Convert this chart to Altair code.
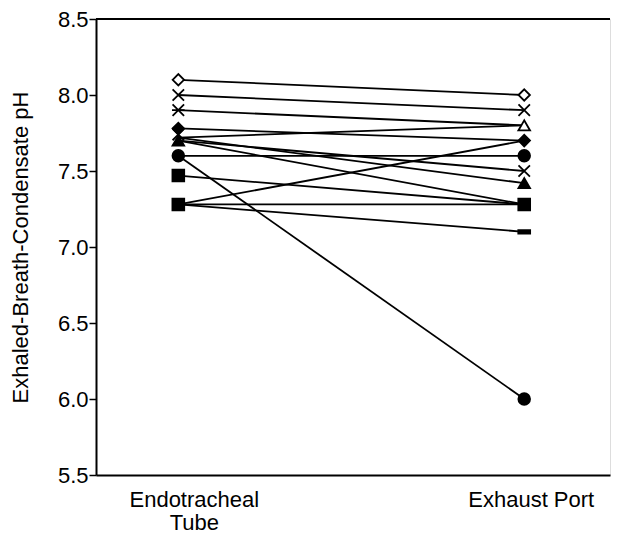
import altair as alt
import pandas as pd

# ---- data ----
left_vals = [8.1, 8.0, 7.9, 7.78, 7.72, 7.70, 7.72, 7.70, 7.6, 7.6, 7.47, 7.28, 7.28, 7.28]
right_vals = [8.0, 7.9, 7.8, 7.70, 7.8, 7.5, 7.42, 7.28, 7.6, 6.0, 7.28, 7.28, 7.70, 7.1]

left_marker_vals = [8.1, 8.0, 7.9, 7.78, 7.74, 7.70, 7.6, 7.47, 7.28]
left_marker_shapes = ["open_diamond", "cross", "asterisk", "filled_diamond", "cross",
                      "filled_triangle", "filled_circle", "small_square", "large_square"]
right_marker_vals = [8.0, 7.9, 7.8, 7.7, 7.6, 7.5, 7.42, 7.28, 7.1, 6.0]
right_marker_shapes = ["open_diamond", "cross", "open_triangle", "filled_diamond", "filled_circle",
                       "cross", "filled_triangle", "large_square", "dash", "filled_circle"]

sites = ["Endotracheal\nTube", "Exhaust Port"]
y_ticks = [5.5, 6.0, 6.5, 7.0, 7.5, 8.0, 8.5]

# ---- tables ----
rows = []
for i, (a, b) in enumerate(zip(left_vals, right_vals)):
    rows.append({"id": i, "site": 0, "ph": a})
    rows.append({"id": i, "site": 1, "ph": b})
lines_df = pd.DataFrame(rows)

pts = [{"site": 0, "ph": v, "shape": s} for v, s in zip(left_marker_vals, left_marker_shapes)]
pts += [{"site": 1, "ph": v, "shape": s} for v, s in zip(right_marker_vals, right_marker_shapes)]
pts_df = pd.DataFrame(pts)

# ---- style scales ----
shape_names = ["open_diamond", "cross", "asterisk", "filled_diamond", "filled_triangle",
               "open_triangle", "filled_circle", "small_square", "large_square", "dash"]
shape_paths = ["diamond", "M-1,-1L1,1M-1,1L1,-1", "M-1,-1L1,1M-1,1L1,-1M-1.1,0L1.1,0",
               "diamond", "triangle-up", "triangle-up", "circle", "square", "square",
               "M-1,-0.3L1,-0.3L1,0.3L-1,0.3Z"]
shape_sizes = [130, 140, 130, 150, 150, 140, 120, 95, 280, 160]
shape_fills = ["white", "black", "black", "black", "black", "white", "black", "black", "black", "black"]

FONT = "Liberation Sans"
W, H = 514, 456
xscale = alt.Scale(domain=[-0.238, 1.248], nice=False, zero=False)
yscale = alt.Scale(domain=[5.5, 8.5], nice=False, zero=False)

x_enc = alt.X("site:Q", scale=xscale,
              axis=alt.Axis(title=None, labels=False, ticks=False, grid=False,
                            domainWidth=2, domainColor="black"))
y_enc = alt.Y("ph:Q", scale=yscale,
              axis=alt.Axis(title="Exhaled-Breath-Condensate pH", values=y_ticks, format=".1f",
                            grid=False, domainWidth=2, domainColor="black", tickColor="black",
                            tickSize=7, tickWidth=1.5, labelPadding=1, labelFontSize=22,
                            labelColor="black", labelFont=FONT,
                            titleFont=FONT, titleFontSize=22, titleFontWeight="normal",
                            titleColor="black", titlePadding=25))

lines = alt.Chart(lines_df).mark_line(color="black", strokeWidth=1.8).encode(
    x=x_enc, y=y_enc, detail="id:N")

points = alt.Chart(pts_df).mark_point(filled=False, stroke="black", strokeWidth=1.8, opacity=1).encode(
    x=x_enc, y=y_enc,
    shape=alt.Shape("shape:N", scale=alt.Scale(domain=shape_names, range=shape_paths), legend=None),
    size=alt.Size("shape:N", scale=alt.Scale(domain=shape_names, range=shape_sizes), legend=None),
    fill=alt.Fill("shape:N", scale=alt.Scale(domain=shape_names, range=shape_fills), legend=None),
)

frame_top = alt.Chart(pd.DataFrame({"a": [0]})).mark_rule(color="black", strokeWidth=2).encode(
    x=alt.value(0), x2=alt.value(W), y=alt.value(0))

lab_left = alt.Chart(pd.DataFrame({"site": [0], "t": [sites[0]]})).mark_text(
    lineBreak="\n", fontSize=22, font=FONT, baseline="alphabetic", dx=16, lineHeight=23,
    color="black").encode(x=alt.X("site:Q", scale=xscale), y=alt.value(H + 32), text="t:N")
lab_right = alt.Chart(pd.DataFrame({"site": [1], "t": [sites[1]]})).mark_text(
    lineBreak="\n", fontSize=22, font=FONT, baseline="alphabetic", dx=7, lineHeight=23,
    color="black").encode(x=alt.X("site:Q", scale=xscale), y=alt.value(H + 32), text="t:N")

chart = alt.layer(frame_top, lines, points, lab_left, lab_right).properties(
    width=W, height=H,
    autosize=alt.AutoSizeParams(type="none"),
    padding={"left": 88, "top": 11, "right": 1, "bottom": 66},
).configure_view(stroke=None).configure(background="white")

chart.save("out.html", embed_options={"renderer": "svg", "actions": False})
